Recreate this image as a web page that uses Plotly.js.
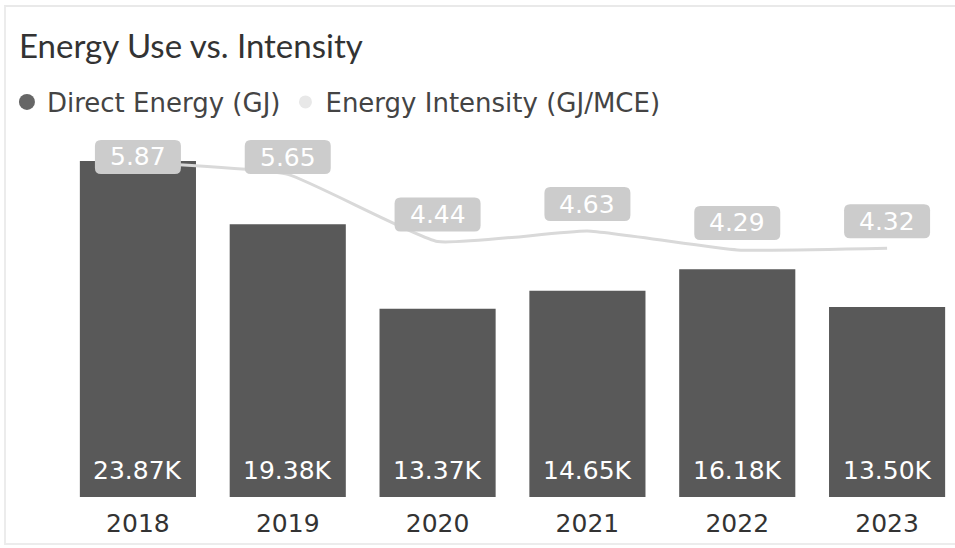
<!DOCTYPE html>
<html>
<head>
<meta charset="utf-8">
<script src="https://cdn.plot.ly/plotly-3.0.1.min.js"></script>
<style>
  html, body { margin: 0; padding: 0; overflow: hidden; background: #fff; }
  #chart { width: 962px; height: 548px; }
  #frame { position: absolute; left: 4px; top: 5px; width: 990px; height: 536px;
           border-top: 2px solid #e9e9e9; border-left: 2px solid #ececec; border-bottom: 2px solid #ececec;
           pointer-events: none; }
</style>
</head>
<body>
<div id="chart"></div>
<div id="frame"></div>
<script>
// ---- data ----
const years = ['2018', '2019', '2020', '2021', '2022', '2023'];
const directEnergy = [23870, 19380, 13370, 14650, 16180, 13500];   // GJ
const energyIntensity = [5.87, 5.65, 4.44, 4.63, 4.29, 4.32];    // GJ/MCE
const seriesNames = ['Direct Energy (GJ)', 'Energy Intensity (GJ/MCE)'];

// ---- style ----
const barColor = '#595959';
const lineColor = '#d9d9d9';
const labelBox = '#cccccc';
const FONT = 'DejaVu Sans, Verdana, sans-serif';
const y1Range = [0, 26070];
const y2Range = [-0.16, 6.45];
const plotTop = 130, plotH = 367;
const boxW = 86, boxH = 34, boxR = 6;
const labelTopLimit = 157;   // center of label cannot go above this pixel

function y2px(v) { return plotTop + (y2Range[1] - v) / (y2Range[1] - y2Range[0]) * plotH; }

function roundRectPath(w, h, r, cy) {
  const x0 = -w / 2, x1 = w / 2, y0 = cy - h / 2, y1 = cy + h / 2;
  return `M${x0 + r},${y0} L${x1 - r},${y0} Q${x1},${y0} ${x1},${y0 + r} L${x1},${y1 - r} Q${x1},${y1} ${x1 - r},${y1} ` +
         `L${x0 + r},${y1} Q${x0},${y1} ${x0},${y1 - r} L${x0},${y0 + r} Q${x0},${y0} ${x0 + r},${y0} Z`;
}

const traces = [
  {
    type: 'bar', x: years, y: directEnergy, yaxis: 'y',
    marker: { color: barColor }, showlegend: false, hoverinfo: 'x+y'
  },
  {
    type: 'scatter', mode: 'lines', x: years, y: energyIntensity, yaxis: 'y2',
    line: { color: lineColor, width: 3, shape: 'spline', smoothing: 0.4 },
    showlegend: false, hoverinfo: 'x+y'
  },
  // legend entries (circle symbols)
  { type: 'scatter', mode: 'markers', x: [years[0]], y: [null], name: seriesNames[0],
    marker: { color: '#666666', size: 17, symbol: 'circle' }, showlegend: true },
  { type: 'scatter', mode: 'markers', x: [years[0]], y: [null], name: seriesNames[1],
    marker: { color: '#e8e8e8', size: 13, symbol: 'circle' }, showlegend: true }
];

const annotations = [];
const shapes = [];
years.forEach((yr, i) => {
  // bar value labels
  annotations.push({
    x: i, y: 0, xref: 'x', yref: 'y', yanchor: 'middle', yshift: 27, showarrow: false,
    text: (directEnergy[i] / 1000).toFixed(2) + 'K',
    font: { family: FONT, size: 25, color: '#ffffff' }
  });
  // intensity labels in rounded boxes
  const shift = Math.min(27, y2px(energyIntensity[i]) - labelTopLimit);
  shapes.push({
    type: 'path', xref: 'x', yref: 'y2', xsizemode: 'pixel', ysizemode: 'pixel',
    xanchor: i, yanchor: energyIntensity[i],
    path: roundRectPath(boxW, boxH, boxR, shift),
    fillcolor: labelBox, line: { width: 0 }, layer: 'above'
  });
  annotations.push({
    x: i, y: energyIntensity[i], xref: 'x', yref: 'y2', yanchor: 'middle', yshift: shift, showarrow: false,
    text: energyIntensity[i].toFixed(2),
    font: { family: FONT, size: 25, color: '#ffffff' }
  });
});

const layout = {
  width: 962, height: 548,
  margin: { l: 63, r: 0, t: plotTop, b: 548 - plotTop - plotH, pad: 0 },
  paper_bgcolor: 'rgba(0,0,0,0)', plot_bgcolor: 'rgba(0,0,0,0)',
  title: {
    text: 'Energy Use vs. Intensity', xref: 'container', x: 19 / 962, xanchor: 'left',
    yref: 'container', y: 1 - 46 / 548, yanchor: 'middle',
    font: { family: 'Segoe UI, Lato, sans-serif', size: 33, color: '#333333' }
  },
  showlegend: true,
  legend: {
    orientation: 'h', x: -56 / 898, xanchor: 'left', y: 1 + 28 / 367, yanchor: 'middle',
    font: { family: FONT, size: 26, color: '#444444' }, bgcolor: 'rgba(0,0,0,0)',
    itemclick: false, itemdoubleclick: false, tracegroupgap: 0
  },
  bargap: 0.225,
  xaxis: {
    type: 'category', range: [-0.5, 5.5], autorange: false, categoryorder: 'array', categoryarray: years,
    showgrid: false, zeroline: false, showline: false,
    ticks: 'outside', ticklen: 4, tickcolor: 'rgba(0,0,0,0)',
    tickfont: { family: FONT, size: 25, color: '#333333' }, fixedrange: true
  },
  yaxis: { range: y1Range, autorange: false, visible: false, fixedrange: true },
  yaxis2: { range: y2Range, autorange: false, visible: false, overlaying: 'y', side: 'right', fixedrange: true },
  annotations: annotations,
  shapes: shapes
};

Plotly.newPlot('chart', traces, layout, { displayModeBar: false, staticPlot: true });
</script>
</body>
</html>
